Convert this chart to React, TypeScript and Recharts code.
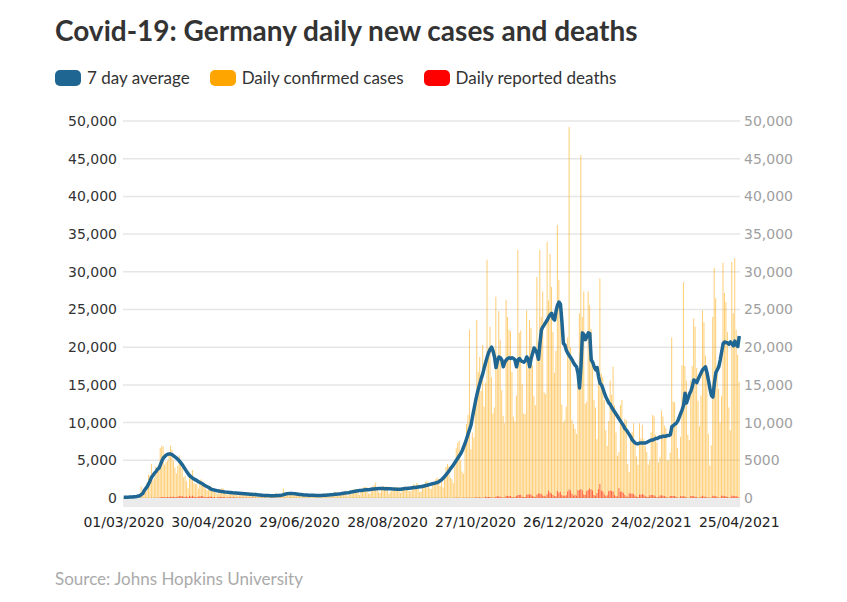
import { ComposedChart, Bar, Line, XAxis, YAxis, CartesianGrid, ReferenceArea } from 'recharts';

// Daily series start on Sunday 1 March 2020, one row per week (Sun..Sat).
const START_DAY = Date.UTC(2020, 2, 1);

const TICK_LABELS = [
  '01/03/2020', '30/04/2020', '29/06/2020', '28/08/2020',
  '27/10/2020', '26/12/2020', '24/02/2021', '25/04/2021',
];

const Y_TICKS = [0, 5000, 10000, 15000, 20000, 25000, 30000, 35000, 40000, 45000, 50000];

const DAILY_CASES = [
  51, 29, 37, 66, 220, 188, 129,
  241, 136, 281, 451, 170, 1597, 910,
  1210, 1477, 1985, 3070, 2993, 4528, 2365,
  2660, 4183, 3930, 4337, 6615, 6933, 6824,
  4400, 4790, 4923, 6064, 6922, 6365, 4933,
  4031, 3251, 4289, 5633, 4885, 3990, 2737,
  2946, 2218, 1287, 3394, 2945, 3699, 1945,
  1842, 1881, 1226, 2357, 2481, 1870, 1514,
  1257, 988, 1154, 1627, 1470, 890, 1051,
  697, 488, 854, 1180, 1300, 1250, 667,
  617, 357, 933, 798, 913, 620, 583,
  427, 342, 797, 638, 460, 798, 638,
  431, 289, 432, 362, 741, 598, 738,
  286, 181, 213, 342, 507, 555, 407,
  301, 214, 350, 396, 554, 192, 687,
  247, 192, 378, 345, 1250, 770, 601,
  687, 537, 503, 587, 630, 477, 687,
  256, 262, 466, 503, 446, 422, 300,
  239, 297, 397, 442, 407, 378, 352,
  159, 280, 412, 534, 583, 534, 430,
  186, 202, 454, 569, 815, 781, 305,
  287, 340, 633, 684, 902, 955, 240,
  509, 879, 741, 1045, 1147, 1122, 780,
  436, 966, 1226, 1445, 1449, 1415, 625,
  561, 1390, 1510, 1707, 2034, 1427, 782,
  711, 1278, 1576, 1507, 1571, 1479, 610,
  786, 1218, 1311, 1176, 1511, 1453, 988,
  700, 1200, 1300, 1600, 1400, 1500, 900,
  900, 1300, 1900, 1700, 2000, 1800, 800,
  900, 1600, 1700, 2100, 2300, 2000, 1300,
  1192, 1798, 2089, 2503, 2673, 2563, 1607,
  2100, 1400, 2700, 4100, 4500, 4200, 2700,
  2500, 2000, 4100, 6600, 7300, 7600, 5000,
  3500, 3200, 6900, 9800, 11000, 22300, 6500,
  8700, 8000, 13100, 23600, 16700, 18700, 14200,
  20300, 12100, 15300, 31600, 19900, 22700, 16000,
  11200, 12000, 26700, 18300, 24800, 21000, 14300,
  10900, 9900, 26300, 24000, 22300, 22100, 16700,
  10800, 10100, 13600, 32900, 21900, 22200, 15100,
  11200, 11100, 24900, 17200, 23600, 22500, 17600,
  13500, 12300, 29300, 20800, 32900, 24000, 27400,
  14000, 13800, 34000, 26200, 32400, 28000, 22000,
  16600, 19500, 36200, 28900, 25300, 12400, 10000,
  10300, 12100, 21300, 49200, 20000, 10300, 9800,
  9200, 8500, 16800, 24500, 45500, 24000, 27400,
  12500, 12800, 27400, 25600, 22400, 18700, 13000,
  12000, 7800, 15900, 29100, 16500, 16000, 13000,
  9000, 6900, 10200, 15600, 13700, 17400, 12300,
  8700, 5600, 6100, 12300, 13000, 9800, 10500,
  10300, 4500, 3400, 8100, 8800, 9900, 7000,
  5500, 4400, 9900, 7900, 9700, 7800, 6900,
  6100, 4400, 5000, 8700, 11000, 10800, 8400,
  7400, 4700, 5400, 11600, 10800, 9600, 9300,
  5000, 5000, 6000, 21300, 12800, 12700, 10000,
  6600, 5200, 8100, 17600, 28600, 17500, 15600,
  8400, 7700, 15600, 17500, 23800, 22700, 17200,
  12900, 9500, 13600, 24900, 23300, 18900, 16500,
  8500, 4300, 7000, 24000, 30500, 26500, 17600,
  14500, 10000, 13500, 31200, 27200, 26000, 22000,
  12000, 9000, 31300, 24500, 31800, 22300, 19000,
  15400,
];

const AVERAGE_7D = [
  100, 100, 100, 110, 120, 130, 140,
  160, 180, 210, 270, 290, 480, 600,
  1000, 1250, 1500, 1900, 2300, 2750, 3000,
  3300, 3500, 3800, 3950, 4400, 4900, 5300,
  5500, 5700, 5800, 5850, 5830, 5750, 5600,
  5450, 5300, 5100, 4900, 4650, 4400, 4100,
  3800, 3500, 3200, 2950, 2800, 2650, 2500,
  2400, 2300, 2150, 2050, 1950, 1850, 1700,
  1600, 1500, 1400, 1250, 1150, 1100, 1050,
  1000, 950, 920, 880, 850, 830, 800,
  780, 760, 740, 720, 700, 680, 660,
  650, 630, 620, 600, 590, 570, 560,
  540, 520, 500, 490, 470, 460, 450,
  430, 410, 390, 370, 350, 340, 330,
  320, 320, 310, 300, 300, 300, 320,
  320, 330, 350, 380, 450, 500, 550,
  580, 600, 610, 600, 580, 560, 530,
  500, 470, 450, 430, 410, 400, 390,
  380, 370, 360, 350, 350, 340, 340,
  330, 330, 340, 350, 360, 380, 390,
  400, 420, 440, 460, 490, 510, 520,
  540, 560, 590, 620, 650, 680, 700,
  740, 790, 820, 860, 900, 940, 960,
  980, 1000, 1030, 1060, 1080, 1100, 1100,
  1120, 1150, 1180, 1200, 1230, 1230, 1250,
  1250, 1250, 1250, 1240, 1230, 1230, 1220,
  1220, 1210, 1200, 1180, 1170, 1160, 1170,
  1170, 1200, 1230, 1250, 1260, 1280, 1290,
  1320, 1350, 1380, 1400, 1430, 1460, 1480,
  1500, 1550, 1600, 1650, 1700, 1750, 1800,
  1850, 1900, 1950, 2000, 2050, 2150, 2300,
  2450, 2650, 2850, 3100, 3350, 3600, 3900,
  4150, 4400, 4700, 5000, 5300, 5600, 5900,
  6300, 6800, 7300, 7900, 8500, 9100, 9700,
  10800, 11800, 12800, 13700, 14500, 15200, 15900,
  16500, 17300, 18000, 18700, 19300, 19700, 20000,
  19500, 18700, 17300, 18200, 18700, 18600, 18300,
  17400, 18000, 18300, 18500, 18600, 18500, 18600,
  18500, 18300, 17400, 18300, 18500, 18200, 18100,
  18000, 18200, 18700, 18400, 17400, 18500, 19200,
  19900, 19600, 19200, 18400, 20500, 22300, 22700,
  23000, 23300, 23600, 24000, 24300, 24500, 23800,
  23600, 24800, 25600, 26000, 25700, 23400, 20500,
  20300, 19600, 19200, 18900, 18600, 18300, 17900,
  17600, 17400, 16500, 14600, 17500, 21900, 21700,
  21000, 21400, 21900, 21800, 18300, 18000, 17400,
  17000, 17300, 16100, 15200, 15000, 14500, 13900,
  13400, 13000, 12600, 12400, 12000, 11700, 11400,
  11100, 10800, 10500, 10200, 9900, 9600, 9200,
  9000, 8700, 8400, 8100, 7700, 7500, 7300,
  7200, 7200, 7300, 7300, 7300, 7300, 7300,
  7400, 7500, 7600, 7700, 7700, 7800, 7900,
  7900, 8000, 8100, 8100, 8200, 8200, 8200,
  8300, 8300, 8400, 9450, 9600, 9800, 9900,
  10200, 10700, 11200, 11700, 12300, 13900, 12600,
  13200, 13800, 14200, 14800, 15650, 15500, 15300,
  15800, 16200, 16600, 17000, 17200, 17400, 16600,
  15600, 14500, 13600, 13400, 15200, 16600, 17000,
  17400, 18300, 19400, 20500, 20700, 20600, 20600,
  20400, 20700, 20500, 20200, 20800, 20300, 20100,
  21500,
];

const DAILY_DEATHS = [
  0, 0, 0, 0, 0, 0, 0,
  0, 2, 0, 1, 1, 3, 1,
  4, 4, 4, 15, 13, 24, 16,
  27, 32, 36, 49, 61, 117, 123,
  101, 104, 149, 145, 140, 169, 168,
  145, 131, 178, 259, 247, 273, 142,
  153, 172, 124, 299, 194, 312, 175,
  117, 101, 203, 197, 258, 228, 121,
  112, 123, 138, 194, 156, 112, 117,
  33, 73, 144, 154, 107, 118, 103,
  30, 23, 114, 101, 69, 103, 53,
  23, 25, 76, 61, 45, 41, 38,
  17, 11, 47, 50, 30, 38, 21,
  11, 14, 30, 29, 25, 23, 20,
  10, 5, 24, 29, 17, 10, 30,
  4, 5, 22, 16, 13, 22, 14,
  4, 3, 17, 11, 13, 18, 5,
  3, 2, 12, 14, 10, 10, 6,
  2, 5, 9, 13, 6, 8, 5,
  1, 1, 6, 5, 4, 5, 2,
  0, 2, 6, 9, 5, 4, 1,
  0, 3, 7, 10, 8, 6, 3,
  0, 2, 9, 4, 6, 5, 2,
  0, 2, 6, 4, 6, 5, 1,
  0, 1, 7, 5, 8, 6, 2,
  0, 0, 13, 6, 5, 2, 1,
  0, 2, 8, 3, 4, 2, 1,
  0, 2, 9, 7, 8, 6, 1,
  0, 2, 10, 8, 10, 7, 2,
  0, 5, 13, 10, 14, 11, 4,
  1, 9, 15, 12, 14, 10, 6,
  2, 15, 13, 18, 16, 14, 7,
  3, 14, 23, 33, 24, 23, 7,
  10, 22, 30, 39, 49, 32, 21,
  11, 42, 70, 85, 49, 85, 29,
  19, 49, 151, 118, 124, 128, 57,
  66, 41, 154, 261, 215, 178, 108,
  62, 74, 305, 251, 260, 254, 138,
  90, 107, 249, 410, 389, 426, 158,
  126, 148, 388, 487, 440, 499, 255,
  188, 147, 423, 590, 598, 516, 321,
  255, 188, 500, 952, 698, 598, 412,
  226, 226, 962, 698, 814, 400, 282,
  300, 370, 850, 1129, 1000, 550, 300,
  420, 300, 1019, 1070, 1188, 1011, 465,
  400, 891, 1060, 1244, 1113, 1004, 390,
  300, 650, 1148, 1850, 1000, 859, 464,
  228, 349, 903, 982, 941, 839, 379,
  240, 191, 1300, 786, 855, 663, 397,
  215, 158, 644, 551, 604, 508, 338,
  150, 118, 465, 427, 545, 394, 226,
  160, 138, 364, 405, 410, 342, 194,
  88, 134, 327, 361, 300, 257, 155,
  60, 34, 249, 269, 256, 252, 150,
  26, 48, 243, 238, 225, 214, 100,
  14, 40, 249, 249, 220, 182, 133,
  28, 20, 168, 288, 200, 180, 75,
  50, 17, 70, 296, 265, 230, 180,
  45, 24, 294, 296, 246, 247, 120,
  46, 68, 331, 259, 265, 227, 150,
  20,
];

const BLUE = '#1f6693';
const ORANGE = '#ffa500';
const RED = '#ff0000';

function dayLabel(i: number) {
  const d = new Date(START_DAY + i * 86400000);
  const dd = String(d.getUTCDate()).padStart(2, '0');
  const mm = String(d.getUTCMonth() + 1).padStart(2, '0');
  return `${dd}/${mm}/${d.getUTCFullYear()}`;
}

const data = DAILY_CASES.map((cases, i) => ({
  day: dayLabel(i),
  cases,
  avg: AVERAGE_7D[i],
  deaths: DAILY_DEATHS[i],
}));

const uiFont = 'Lato, "Open Sans", sans-serif';
const axisFont = '"DejaVu Sans", Verdana, sans-serif';

function Swatch({ color }: { color: string }) {
  return <div style={{ width: 26, height: 16, borderRadius: 5, background: color, marginRight: 6 }} />;
}

export default function App() {
  const legend = [
    { label: '7 day average', color: BLUE },
    { label: 'Daily confirmed cases', color: ORANGE },
    { label: 'Daily reported deaths', color: RED },
  ];

  return (
    <div style={{ position: 'absolute', left: 0, top: 0, width: 847, height: 602, background: '#fff', overflow: 'hidden' }}>
      <div style={{ position: 'absolute', left: 55, top: 13, fontFamily: uiFont, fontWeight: 700, fontSize: 28, color: '#333' }}>
        Covid-19: Germany daily new cases and deaths
      </div>

      <div style={{ position: 'absolute', left: 55, top: 67, display: 'flex', alignItems: 'center', fontFamily: uiFont, fontSize: 17, color: '#333' }}>
        {legend.map((l) => (
          <div key={l.label} style={{ display: 'flex', alignItems: 'center', marginRight: 20 }}>
            <Swatch color={l.color} />
            <span>{l.label}</span>
          </div>
        ))}
      </div>

      <div style={{ position: 'absolute', left: 0, top: 100 }}>
        <ComposedChart
          width={847}
          height={440}
          data={data}
          margin={{ top: 21, right: 27, bottom: 12, left: 0 }}
          barCategoryGap="5%"
        >
          <CartesianGrid xAxisId="cases" yAxisId="left" vertical={false} stroke="#e6e6e6" strokeWidth={1.5} />
          <ReferenceArea xAxisId="cases" yAxisId="left" y1={-1200} y2={0} ifOverflow="visible" fill="#ebebeb" fillOpacity={1} stroke="none" />
          <XAxis
            xAxisId="cases"
            dataKey="day"
            ticks={TICK_LABELS}
            interval={0}
            axisLine={false}
            tickLine={false}
            tickSize={0}
            tickMargin={19}
            height={30}
            tick={{ fontFamily: axisFont, fontSize: 14, fill: '#222' }}
          />
          <XAxis xAxisId="deaths" dataKey="day" hide />
          <YAxis
            yAxisId="left"
            orientation="left"
            domain={[0, 50000]}
            ticks={Y_TICKS}
            width={123}
            axisLine={false}
            tickLine={false}
            tickSize={0}
            tickMargin={6}
            tickFormatter={(v: number) => v.toLocaleString('en-US')}
            tick={{ fontFamily: axisFont, fontSize: 14, fill: '#333' }}
          />
          <YAxis
            yAxisId="right"
            orientation="right"
            domain={[0, 50000]}
            ticks={Y_TICKS}
            width={80}
            axisLine={false}
            tickLine={false}
            tickSize={0}
            tickMargin={4}
            tickFormatter={(v: number) => (v < 10000 ? String(v) : v.toLocaleString('en-US'))}
            tick={{ fontFamily: axisFont, fontSize: 14, fill: '#a0a0a0' }}
          />
          <Bar xAxisId="cases" yAxisId="left" dataKey="cases" fill={ORANGE} fillOpacity={0.55} isAnimationActive={false} />
          <Bar xAxisId="deaths" yAxisId="right" dataKey="deaths" fill={RED} fillOpacity={0.55} isAnimationActive={false} />
          <Line
            xAxisId="cases"
            yAxisId="left"
            dataKey="avg"
            type="linear"
            stroke={BLUE}
            strokeWidth={3.5}
            dot={false}
            activeDot={false}
            strokeLinejoin="round"
            isAnimationActive={false}
          />
        </ComposedChart>
      </div>

      <div style={{ position: 'absolute', left: 55, top: 568, fontFamily: uiFont, fontSize: 17, color: '#aaa' }}>
        Source: Johns Hopkins University
      </div>
    </div>
  );
}
